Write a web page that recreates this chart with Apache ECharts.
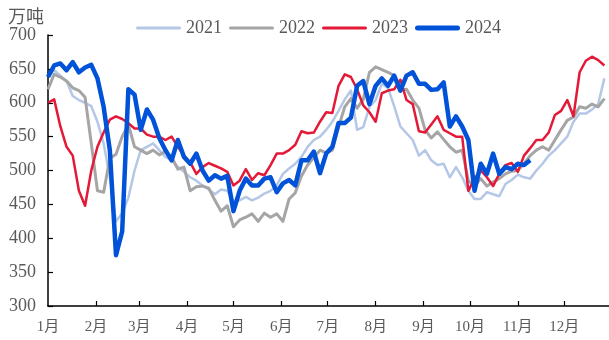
<!DOCTYPE html>
<html><head><meta charset="utf-8">
<script src="https://cdn.jsdelivr.net/npm/echarts@6/dist/echarts.min.js"></script>
<style>html,body{margin:0;padding:0;background:#fff}#c{width:609px;height:340px}</style>
</head><body><div id="c"></div>
<script>
// sampling step of the series (days between points, starting Jan 1)
const STEP_DAYS = 4;
const monthLabels = ['1月','2月','3月','4月','5月','6月','7月','8月','9月','10月','11月','12月'];
const monthStartDays = [0,31,59,90,120,151,181,212,243,273,304,334];
const yearNames = ['2021','2022','2023','2024'];
const unitLabel = '万吨';

const v2021 = [
640,648,640,632,610,604,600,595,572,540,
490,425,437,460,500,530,535,540,530,520,
515,505,498,490,485,478,472,465,472,470,
455,456,461,456,460,466,470,478,495,503,
510,520,535,545,550,560,572,588,605,618,
560,564,594,604,628,622,595,565,555,545,
522,530,515,508,510,490,505,490,470,458,
458,468,465,462,480,486,494,490,488,500,
510,522,530,540,550,572,584,584,590,598,
636];
const v2022 = [
620,642,638,632,622,618,608,540,470,468,
518,524,550,568,535,530,525,530,523,528,
520,502,505,470,476,477,474,456,440,448,
417,427,431,436,425,437,431,436,425,458,
467,492,508,519,530,526,530,564,594,606,
592,605,645,653,649,645,640,619,620,604,
592,560,548,557,546,535,527,530,485,477,
488,477,483,488,495,499,500,510,522,530,
535,530,545,560,574,579,594,592,598,594,
606];
const v2023 = [
600,605,565,535,522,470,448,500,535,556,
575,580,576,570,562,562,553,550,550,545,
550,535,522,512,495,505,511,507,503,498,
478,485,502,486,496,493,508,525,525,530,
538,558,555,556,572,586,585,625,642,638,
620,596,586,572,614,618,620,634,604,598,
558,556,568,580,560,555,550,550,470,488,
500,490,477,495,508,511,498,522,533,545,
545,556,582,588,604,580,645,662,668,663,
655];
const v2024 = [
638,655,658,648,660,645,652,656,636,594,
530,375,410,620,612,560,590,575,548,530,
515,545,520,510,525,500,485,493,488,492,
440,470,488,478,478,488,490,468,481,486,
478,515,515,528,496,525,535,570,570,578,
625,632,598,625,636,625,640,618,640,645,
628,628,619,620,630,565,580,565,545,470,
510,495,525,495,505,502,510,508,515];

const seriesValues = [v2021, v2022, v2023, v2024];
const colors = ['#B4C7E7', '#A5A5A5', '#E31937', '#0052D9'];
const widths = [2.5, 3, 2.5, 4.5];
const legendIcons = [
  'path://M1.5,0H43.5A1.5,1.5,0,0,1,43.5,3H1.5A1.5,1.5,0,0,1,1.5,0Z',
  'path://M1.5,0H43.5A1.5,1.5,0,0,1,43.5,3H1.5A1.5,1.5,0,0,1,1.5,0Z',
  'path://M1.5,0H43.5A1.5,1.5,0,0,1,43.5,3H1.5A1.5,1.5,0,0,1,1.5,0Z',
  'path://M2.5,0H42.5A2.5,2.5,0,0,1,42.5,5H2.5A2.5,2.5,0,0,1,2.5,0Z'
];

function toPairs(vals) { return vals.map((v, i) => [i * STEP_DAYS, v]); }

const chart = echarts.init(document.getElementById('c'), null, {renderer: 'canvas'});
const serifFont = '"Liberation Serif", "Times New Roman", "Noto Sans CJK SC", serif';
chart.setOption({
  animation: false,
  backgroundColor: '#fff',
  graphic: [{
    type: 'text', left: 8, top: 7,
    style: {text: unitLabel, fill: '#595959', font: '18px "Noto Sans CJK SC", sans-serif'}
  }],
  legend: {
    left: 131, top: 14,
    itemWidth: 45, itemHeight: 14, itemGap: 7,
    symbolKeepAspect: true,
    textStyle: {fontSize: 18, color: '#595959', fontFamily: serifFont},
    data: yearNames.map((n, k) => ({name: n, icon: legendIcons[k], itemStyle: {color: colors[k]}}))
  },
  grid: {left: 48, right: 0, top: 35, bottom: 34, containLabel: false},
  xAxis: {
    type: 'value', min: 0, max: 363,
    axisLine: {show: true, lineStyle: {color: '#000', width: 1.5}},
    splitLine: {show: false},
    axisTick: {show: true, inside: true, length: 5, lineStyle: {color: '#000', width: 1.2},
      customValues: monthStartDays.slice(1)},
    axisLabel: {
      customValues: monthStartDays,
      formatter: function (v) { const i = monthStartDays.indexOf(Math.round(v)); return i >= 0 ? monthLabels[i] : ''; },
      color: '#595959', fontSize: 15, fontFamily: serifFont, margin: 14
    }
  },
  yAxis: {
    type: 'value', min: 300, max: 700, interval: 50,
    axisLine: {show: true, lineStyle: {color: '#000', width: 1.5}},
    splitLine: {show: false},
    axisTick: {show: true, inside: true, length: 5, lineStyle: {color: '#000', width: 1.2}},
    axisLabel: {color: '#595959', fontSize: 18, fontFamily: serifFont, margin: 12}
  },
  series: yearNames.map((name, k) => ({
    name: name, type: 'line', symbol: 'none', showSymbol: false,
    data: toPairs(seriesValues[k]),
    itemStyle: {color: colors[k]},
    lineStyle: {color: colors[k], width: widths[k], join: 'round'},
    z: 2 + k
  }))
});
</script></body></html>
